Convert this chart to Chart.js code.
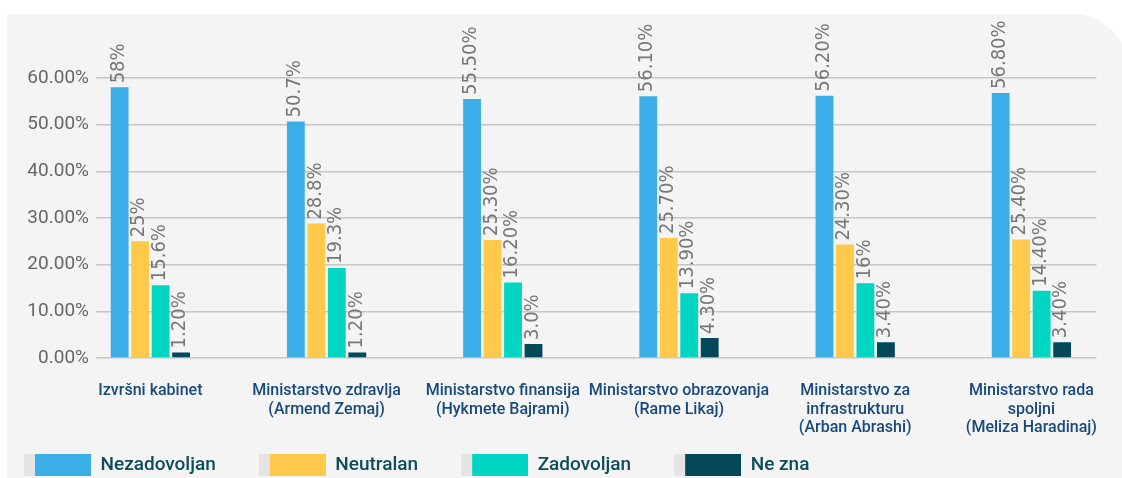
<!DOCTYPE html>
<html>
<head>
<meta charset="utf-8">
<script src="https://cdn.jsdelivr.net/npm/chart.js@4.4.1/dist/chart.umd.min.js"></script>
<style>
  html, body { margin: 0; padding: 0; background: #ffffff; }
  #wrap { width: 1122px; height: 478px; position: relative; }
</style>
</head>
<body>
<div id="wrap"><canvas id="c" width="1122" height="478"></canvas></div>
<script>
// ---- data ----
const CATEGORIES = [
  ['Izvršni kabinet'],
  ['Ministarstvo zdravlja', '(Armend Zemaj)'],
  ['Ministarstvo finansija', '(Hykmete Bajrami)'],
  ['Ministarstvo obrazovanja', '(Rame Likaj)'],
  ['Ministarstvo za', 'infrastrukturu', '(Arban Abrashi)'],
  ['Ministarstvo rada', 'spoljni', '(Meliza Haradinaj)']
];
const SERIES_NAMES = ['Nezadovoljan', 'Neutralan', 'Zadovoljan', 'Ne zna'];
const NEZADOVOLJAN = [58, 50.7, 55.5, 56.1, 56.2, 56.8];
const NEUTRALAN    = [25, 28.8, 25.3, 25.7, 24.3, 25.4];
const ZADOVOLJAN   = [15.6, 19.3, 16.2, 13.9, 16, 14.4];
const NE_ZNA       = [1.2, 1.2, 3.0, 4.3, 3.4, 3.4];
const LBL_NEZADOVOLJAN = ['58%', '50.7%', '55.50%', '56.10%', '56.20%', '56.80%'];
const LBL_NEUTRALAN    = ['25%', '28.8%', '25.30%', '25.70%', '24.30%', '25.40%'];
const LBL_ZADOVOLJAN   = ['15.6%', '19.3%', '16.20%', '13.90%', '16%', '14.40%'];
const LBL_NE_ZNA       = ['1.20%', '1.20%', '3.0%', '4.30%', '3.40%', '3.40%'];
const Y_TICKS = [0, 10, 20, 30, 40, 50, 60];

// ---- styles ----
const COLORS = ['#3BAEE8', '#FFC94B', '#00D6C1', '#03495A'];
const VALUES = [NEZADOVOLJAN, NEUTRALAN, ZADOVOLJAN, NE_ZNA];
const LABELS = [LBL_NEZADOVOLJAN, LBL_NEUTRALAN, LBL_ZADOVOLJAN, LBL_NE_ZNA];

// legend swatch: transparent lead-in, light grey strip, coloured box
function legendSwatch(color) {
  const cv = document.createElement('canvas');
  cv.width = 100; cv.height = 22;
  const g = cv.getContext('2d');
  g.fillStyle = '#E4E4E4'; g.fillRect(33, 0, 11, 22);
  g.fillStyle = color; g.fillRect(44, 0, 56, 22);
  return cv;
}

const cardBg = {
  id: 'cardBg',
  beforeDraw(chart) {
    const ctx = chart.ctx;
    ctx.save();
    ctx.fillStyle = '#ffffff';
    ctx.fillRect(0, 0, chart.width, chart.height);
    const L = 7, T = 14, R = 1128, B = chart.height + 2, rad = 55;
    ctx.beginPath();
    ctx.moveTo(L, T);
    ctx.lineTo(R - rad, T);
    ctx.arcTo(R, T, R, T + rad, rad);
    ctx.lineTo(R, B);
    ctx.lineTo(L, B);
    ctx.closePath();
    ctx.fillStyle = '#F4F4F4';
    ctx.fill();
    ctx.restore();
  }
};

const barLabels = {
  id: 'barLabels',
  afterDatasetsDraw(chart) {
    const ctx = chart.ctx;
    ctx.save();
    ctx.fillStyle = '#777777';
    ctx.font = "20px 'Liberation Sans Narrow', 'DejaVu Sans Condensed', Roboto, sans-serif";
    ctx.textAlign = 'left';
    ctx.textBaseline = 'middle';
    chart.data.datasets.forEach((ds, di) => {
      const meta = chart.getDatasetMeta(di);
      meta.data.forEach((el, i) => {
        ctx.save();
        ctx.translate(el.x - 1, el.y - 4);
        ctx.rotate(-Math.PI / 2);
        ctx.fillText(ds.valueLabels[i], 0, 0);
        ctx.restore();
      });
    });
    ctx.restore();
  }
};

const datasets = SERIES_NAMES.map((name, k) => ({
  label: name,
  data: VALUES[k].map((v, i) => ({ x: i, y: v })),
  valueLabels: LABELS[k],
  backgroundColor: COLORS[k],
  borderWidth: 0,
  pointStyle: legendSwatch(COLORS[k]),
  barPercentage: 0.87,
  categoryPercentage: 0.465
}));

new Chart(document.getElementById('c'), {
  type: 'bar',
  data: { datasets },
  options: {
    responsive: false,
    animation: false,
    devicePixelRatio: 1,
    layout: { padding: { top: 78, right: 16, bottom: -6.5, left: -19 } },
    plugins: {
      tooltip: { enabled: false },
      legend: {
        position: 'bottom',
        align: 'start',
        labels: {
          usePointStyle: true,
          pointStyleWidth: 100,
          boxHeight: 22,
          padding: 10,
          color: '#0E4B5B',
          font: { family: 'Roboto, sans-serif', size: 19, weight: '500' }
        }
      }
    },
    scales: {
      x: {
        type: 'linear',
        min: -0.3086,
        max: 5.369,
        offset: false,
        bounds: 'data',
        grid: { display: false, drawTicks: false },
        border: { display: false },
        afterBuildTicks: (axis) => { axis.ticks = CATEGORIES.map((c, i) => ({ value: i })); },
        afterFit: (s) => { s.height = 87.5; },
        ticks: {
          autoSkip: false,
          maxRotation: 0,
          minRotation: 0,
          padding: 24,
          color: '#174A7C',
          font: { family: 'Roboto, sans-serif', size: 16, weight: '500', lineHeight: 1.16 },
          callback: (v) => CATEGORIES[Math.round(v)] || ''
        }
      },
      y: {
        min: 0,
        max: 60,
        afterBuildTicks: (axis) => { axis.ticks = Y_TICKS.map(v => ({ value: v })); },
        afterFit: (s) => { s.width = 115; },
        grid: { color: '#C6C6C6', lineWidth: 1.5, drawTicks: false },
        border: { display: false },
        ticks: {
          padding: 7,
          color: '#666666',
          font: { family: 'Roboto, sans-serif', size: 19 },
          callback: (v) => v.toFixed(2) + '%'
        }
      }
    }
  },
  plugins: [cardBg, barLabels]
});
</script>
</body>
</html>
